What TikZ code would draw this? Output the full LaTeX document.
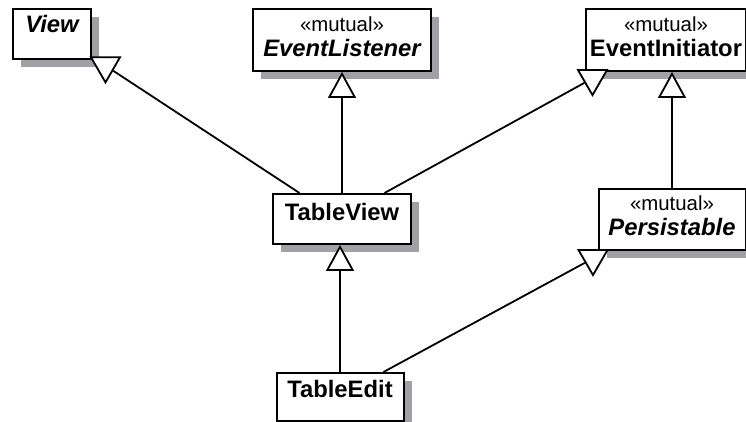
\documentclass[tikz,border=0pt]{standalone}
\usepackage{fontspec}
\setmainfont{Liberation Sans}
\usetikzlibrary{arrows.meta,shapes.geometric,shadows}

\definecolor{umlshadow}{RGB}{160,160,165}
\newcommand{\stereo}[1]{{\fontsize{10.2}{12.5}\selectfont\mdseries\upshape «#1»}}

\begin{document}
\begin{tikzpicture}[x=0.5pt, y=-0.5pt,
    class/.style={draw, line width=1pt, fill=white, anchor=north west, inner sep=0pt,
      align=center, font=\fontsize{11.9}{12.5}\selectfont\bfseries,
      drop shadow={shadow xshift=4pt, shadow yshift=-4pt, fill=umlshadow, opacity=1}},
    link/.style={line width=.9pt},
    inherit/.style={link, -{Triangle[open, fill=white, length=13pt, width=14pt]}},
    head/.style={draw, line width=.9pt, fill=white, regular polygon, regular polygon sides=3,
      shape border rotate=180, minimum size=16.7pt, inner sep=0pt}]
    \useasboundingbox (0,0) rectangle (746,422);

    % classes
    \node[class, text width=39pt, text height=12pt, text depth=13pt] (V) at (12,8) {\itshape View};
    \node[class, text width=89pt, text height=11.5pt, text depth=19.5pt] (EL) at (252,8)
        {\stereo{mutual}\\\itshape EventListener};
    \node[class, text width=80pt, text height=11.5pt, text depth=19.5pt] (EI) at (585,8)
        {\stereo{mutual}\\EventInitiator};
    \node[class, text width=69pt, text height=13.5pt, text depth=11.5pt] (TV) at (272,193) {TableView};
    \node[class, text width=73.5pt, text height=11pt, text depth=19.5pt] (PS) at (597.5,188)
        {\stereo{mutual}\\\itshape Persistable};
    \node[class, text width=63.5pt, text height=12.5pt, text depth=11.75pt] (TE) at (275.5,372) {TableEdit};

    % generalisation heads at the corners
    \node[head] (tV) at (105.5,65.7) {};
    \node[head] (tEI) at (592.5,78.4) {};
    \node[head] (tPS) at (593,258.4) {};

    \draw[link] ([xshift=-21.25pt]TV.north) to (tV);
    \draw[link] ([xshift=21.25pt]TV.north) to (tEI);
    \draw[link] ([xshift=21.75pt]TE.north) to (tPS);

    \draw[inherit] (TV.north) to (TV.north |- EL.south);
    \draw[inherit] (PS.north) to (PS.north |- EI.south);
    \draw[inherit] (TE.north) to (TE.north |- TV.south);
\end{tikzpicture}
\end{document}
